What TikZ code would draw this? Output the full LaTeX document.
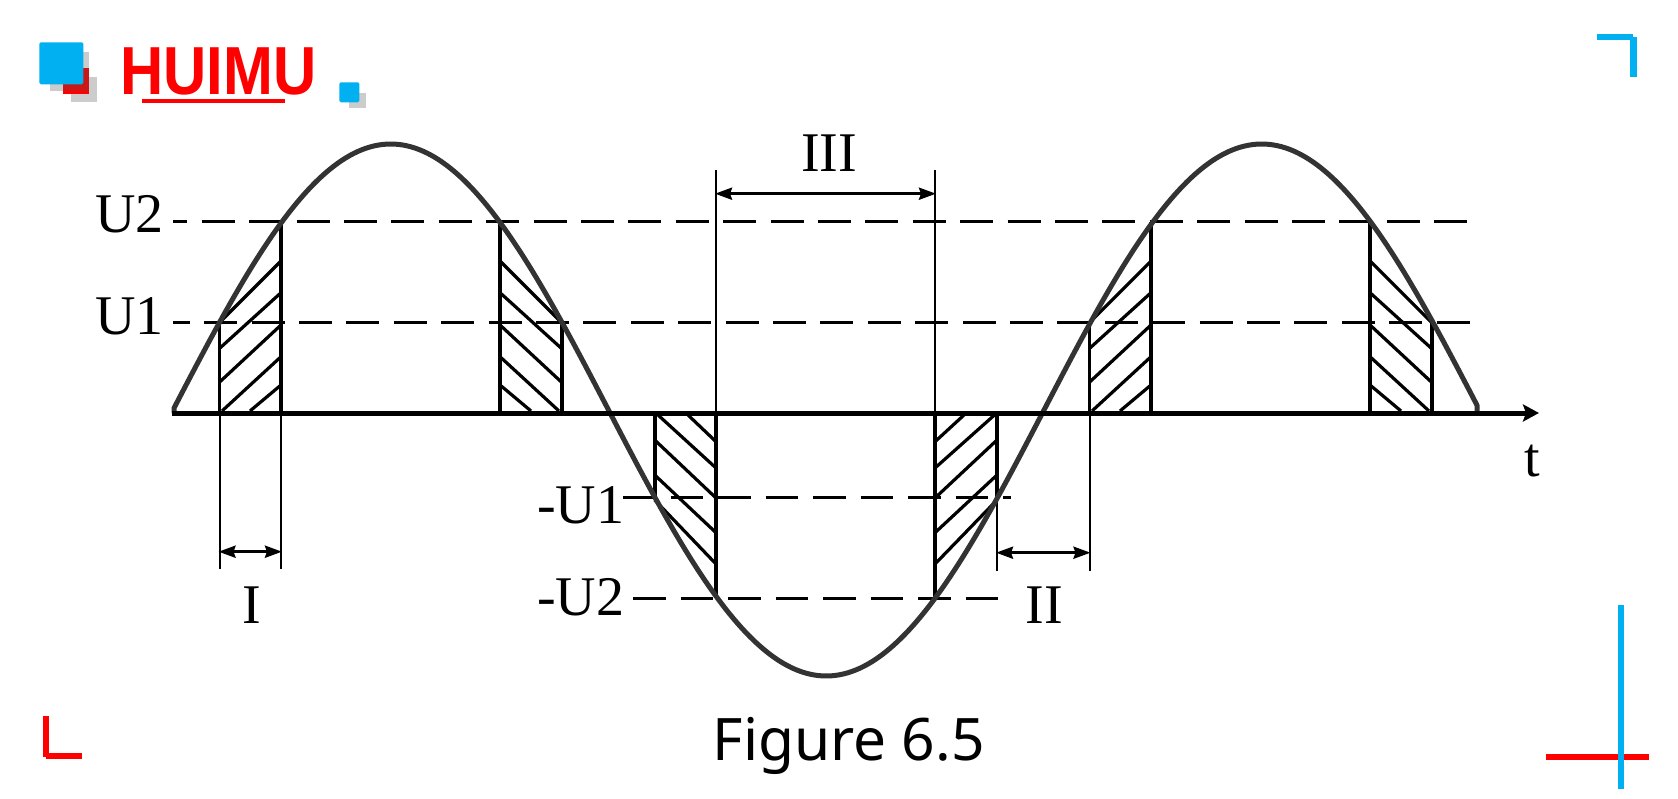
\documentclass[tikz,border=0pt]{standalone}
\usepackage{fontspec}
\setmainfont{Liberation Serif}
\newfontfamily\capfont{Noto Sans}
\newfontfamily\logofont{Liberation Sans}[Scale=1]
\usetikzlibrary{arrows.meta}
\definecolor{hblue}{HTML}{00B0F0}
\definecolor{hred}{HTML}{FF0000}
\definecolor{hdark}{HTML}{C81818}
\definecolor{hgrey}{HTML}{CCCCCC}
\definecolor{wave}{HTML}{333333}
\tikzset{
  x=1pt,y=-1pt,
  hatchline/.style={line width=3.2pt,black},
  edgeline/.style={line width=3.6pt,black},
  thinline/.style={line width=2pt,black},
  levela/.style={line width=3pt,black,dash pattern=on 33pt off 14.4pt,dash phase=18.7pt},
  levelb/.style={line width=3pt,black,dash pattern=on 33pt off 14.4pt,dash phase=16.2pt},
  levelc/.style={line width=3pt,black,dash pattern=on 32.5pt off 15pt},
  span/.style={line width=3pt,black,{Stealth[length=17pt,width=12pt,inset=2pt]}-{Stealth[length=17pt,width=12pt,inset=2pt]},shorten >=-1pt,shorten <=-1pt},
  lab/.style={inner sep=0pt,font=\fontsize{56}{60}\selectfont},
  bluebar/.style={fill=hblue,draw=none},
  redbar/.style={fill=hred,draw=none}
}
\begin{document}
\begin{tikzpicture}
\useasboundingbox[fill=white] (0,0) rectangle (1678,799);
% logo
\fill[hgrey] (50,52.3) rectangle (89.3,90.7);
\fill[hgrey] (71,76.7) rectangle (97,101.7);
\fill[hred] (63.3,68.3) rectangle (89.3,94);
\fill[hdark] (63.3,68.3) rectangle (89.3,90.7);
\fill[hblue,rounded corners=1.5pt] (39.3,42.3) rectangle (83.3,84.3);
\fill[hgrey] (349,92.7) rectangle (365.7,108.3);
\fill[hblue,rounded corners=1.5pt] (339.3,82.3) rectangle (359.3,102.3);
\node[inner sep=0pt,anchor=base west,text=hred,xscale=.88,font=\logofont\bfseries\fontsize{68}{68}\selectfont] (logo) at (120,95) {HUIMU};
\fill[hred] (141.7,99.3) rectangle (285.3,103.3);
% corners
\fill[bluebar] (1597.3,34.3) rectangle (1633,40.3);
\fill[bluebar] (1630,37.3) rectangle (1636.7,77.3);
\fill[redbar] (42.7,716) rectangle (48.5,756.7);
\fill[redbar] (45.7,753.3) rectangle (81.7,759.3);
\fill[redbar] (1545.7,754.3) rectangle (1649.3,760.3);
\fill[bluebar] (1618.3,605.3) rectangle (1624.3,789);
% level lines
\draw[levela] (173,222) -- (1470,222);
\draw[levelb] (173,322.7) -- (1472,322.7);
\draw[levelc] (623,497.3) -- (1011,497.3);
\draw[levelc] (633,598.3) -- (998,598.3);
% hatching of the positive lobes
\foreach \dx in {0,870}{
  \begin{scope}[shift={(\dx,0)}]
    \draw[edgeline] (219.5,322) -- (219.5,413);
    \draw[edgeline] (281,222) -- (281,413);
    \draw[hatchline] (220,322) -- (281,261);
    \draw[hatchline] (220,348) -- (281,292.7);
    \draw[hatchline] (220,381.7) -- (281,325);
    \draw[hatchline] (222,411) -- (281,356.7);
    \draw[hatchline] (250,411) -- (281,385);
    \draw[edgeline] (500,222) -- (500,413);
    \draw[edgeline] (562,322) -- (562,413);
    \draw[hatchline] (561,322) -- (500,261);
    \draw[hatchline] (561,348) -- (500,292.7);
    \draw[hatchline] (561,381.7) -- (500,325);
    \draw[hatchline] (559,411) -- (500,356.7);
    \draw[hatchline] (531,411) -- (500,385);
  \end{scope}
}
% hatching of the negative lobe
\draw[edgeline] (654.7,413) -- (654.7,498);
\draw[edgeline] (716,413) -- (716,598);
\draw[hatchline] (688,415) -- (716,441.7);
\draw[hatchline] (658,415) -- (716,468);
\draw[hatchline] (654.7,440) -- (716,498);
\draw[hatchline] (654.7,475) -- (716,532.7);
\draw[hatchline] (654.7,500) -- (716,564);
\draw[edgeline] (935,413) -- (935,598);
\draw[edgeline] (997,413) -- (997,498);
\draw[hatchline] (964,415) -- (935,441.7);
\draw[hatchline] (994.5,415) -- (935,468);
\draw[hatchline] (997,440) -- (935,498);
\draw[hatchline] (997,475) -- (935,532.7);
\draw[hatchline] (997,500) -- (935,564);
% thin extension lines
\draw[thinline] (219.5,413) -- (219.5,569);
\draw[thinline] (281,413) -- (281,569);
\draw[thinline] (997,498) -- (997,570.7);
\draw[thinline] (1089.5,413) -- (1089.5,570.7);
\draw[thinline] (716,170) -- (716,413);
\draw[thinline] (935,170) -- (935,413);
% waveform
\draw[line width=5pt,wave,line join=round] (174,413) -- plot[domain=174:1477,samples=320] (\x,{410-266*sin((\x-173)/871*360)}) -- (1477,411);
% axis
\coordinate (axisL) at (172,413);
\coordinate (axisR) at (1539,413);
\draw[line width=5pt,black,-{Stealth[length=16pt,width=17pt,inset=3pt]}] (axisL) -- (axisR);
% span arrows
\coordinate (a1) at (219.5,551.7); \coordinate (a2) at (281,551.7);
\coordinate (b1) at (997,552.7); \coordinate (b2) at (1089.5,552.7);
\coordinate (c1) at (716,193.7); \coordinate (c2) at (935,193.7);
\draw[span] (a1) -- (a2);
\draw[span] (b1) -- (b2);
\draw[span] (c1) -- (c2);
% labels
\node[lab,anchor=base west] (u2) at (95,233) {U2};
\node[lab,anchor=base west] (u1) at (95,335) {U1};
\node[lab,anchor=base west] (mu1) at (537,523) {-U1};
\node[lab,anchor=base west] (mu2) at (537,615) {-U2};
\node[lab,anchor=base] (li) at (251.7,623) {I};
\node[lab,anchor=base] (lii) at (1044,623) {II};
\node[lab,anchor=base] (liii) at (829,172) {III};
\node[lab,anchor=base] (lt) at (1532,476) {t};
\node[inner sep=0pt,anchor=base,font=\capfont\fontsize{58.6}{70}\selectfont] (cap) at (848.6,760) {Figure 6.5};
\end{tikzpicture}
\end{document}
